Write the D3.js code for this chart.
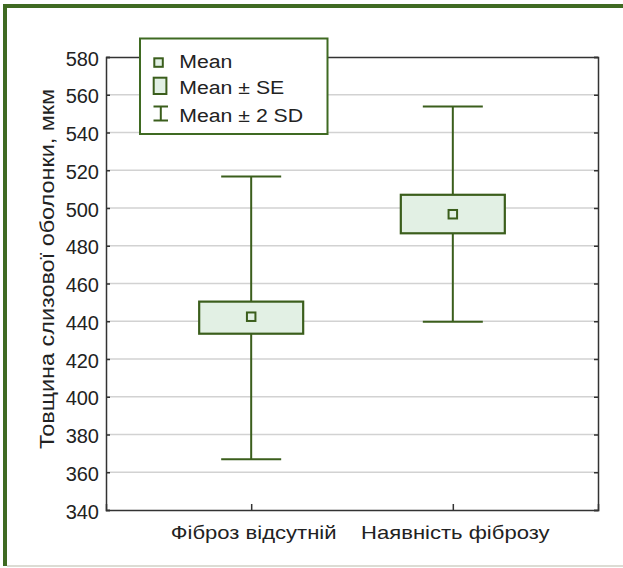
<!DOCTYPE html>
<html><head><meta charset="utf-8">
<script src="https://cdn.jsdelivr.net/npm/d3@7"></script>
<style>body{margin:0;background:#fff}svg{display:block}text{font-family:"Liberation Sans",Arial,sans-serif;fill:#222}</style>
</head><body>
<script>
const categories = ["Фіброз відсутній", "Наявність фіброзу"];
const means = [442.4, 496.7];
const seLow = [433.4, 486.6];
const seHigh = [450.4, 507.0];
const sdLow = [366.9, 439.7];
const sdHigh = [516.7, 553.8];
const yTicks = [340,360,380,400,420,440,460,480,500,520,540,560,580];
const legendLabels = ["Mean", "Mean ± SE", "Mean ± 2 SD"];

const W = 623, H = 568;
const green = "#3b5e1c", fillG = "#e2f0e4";
const svg = d3.select("body").append("svg").attr("width", W).attr("height", H);

function stretch(sel, f){
  sel.each(function(){
    const w = this.getComputedTextLength();
    this.setAttribute("textLength", w*f);
    this.setAttribute("lengthAdjust","spacingAndGlyphs");
  });
}

// outer frame
svg.append("line").attr("x1",5).attr("x2",5).attr("y1",4).attr("y2",566).attr("stroke","#3f6a22").attr("stroke-width",4);
svg.append("line").attr("x1",3).attr("x2",W).attr("y1",6).attr("y2",6).attr("stroke","#3f6a22").attr("stroke-width",4);
svg.append("line").attr("x1",7).attr("x2",W).attr("y1",566).attr("y2",566).attr("stroke","#dcdcd4").attr("stroke-width",2);

const L = 106, R = 598, T = 57, B = 510;
const y = d3.scaleLinear().domain([340,580]).range([B,T]);
const x = d3.scalePoint().domain(categories).range([L,R]).padding(0.72);

// grid
svg.append("g").selectAll("line").data(yTicks.slice(1,-1)).join("line")
  .attr("x1",L).attr("x2",R).attr("y1",d=>y(d)).attr("y2",d=>y(d))
  .attr("stroke","#d2d2d2").attr("stroke-width",1.5);

// axes
const gl = svg.append("g").attr("transform",`translate(${L},0)`)
  .call(d3.axisLeft(y).tickValues(yTicks).tickSize(-4).tickPadding(7));
const gr = svg.append("g").attr("transform",`translate(${R},0)`)
  .call(d3.axisRight(y).tickValues(yTicks).tickSize(-4).tickFormat(""));
const gb = svg.append("g").attr("transform",`translate(0,${B})`)
  .call(d3.axisBottom(x).tickSize(-6).tickPadding(15.5));
const gt = svg.append("g").attr("transform",`translate(0,${T})`)
  .call(d3.axisTop(x).tickSize(0).tickFormat(""));
[gl,gr,gb,gt].forEach(g=>{
  g.select(".domain").attr("stroke","#333").attr("stroke-width",1.5);
  g.selectAll(".tick line").attr("stroke","#333").attr("stroke-width",1.5);
  g.selectAll("text").attr("fill","#222").style("font-family",'"Liberation Sans",Arial,sans-serif');
});
gl.selectAll(".tick text").attr("font-size",20).attr("dy","0.4em");
gb.selectAll(".tick text").attr("font-size",19).attr("dx", 2);
stretch(gb.selectAll(".tick text"), 1.16);

// y label
const yl = svg.append("text").attr("transform",`translate(54,269) rotate(-90)`)
  .attr("text-anchor","middle").attr("font-size",19.5).text("Товщина слизової оболонки, мкм");
stretch(yl, 1.2);

// boxes
const boxW = 104, capW = 60, mk = 8.5;
const g = svg.append("g");
categories.forEach((c,i)=>{
  const cx = x(c);
  g.append("line").attr("x1",cx).attr("x2",cx).attr("y1",y(sdHigh[i])).attr("y2",y(sdLow[i])).attr("stroke",green).attr("stroke-width",2);
  g.append("line").attr("x1",cx-capW/2).attr("x2",cx+capW/2).attr("y1",y(sdHigh[i])).attr("y2",y(sdHigh[i])).attr("stroke",green).attr("stroke-width",2);
  g.append("line").attr("x1",cx-capW/2).attr("x2",cx+capW/2).attr("y1",y(sdLow[i])).attr("y2",y(sdLow[i])).attr("stroke",green).attr("stroke-width",2);
  g.append("rect").attr("x",cx-boxW/2).attr("width",boxW).attr("y",y(seHigh[i])).attr("height",y(seLow[i])-y(seHigh[i]))
    .attr("fill",fillG).attr("stroke",green).attr("stroke-width",2.2);
  g.append("rect").attr("x",cx-mk/2).attr("y",y(means[i])-mk/2).attr("width",mk).attr("height",mk)
    .attr("fill",fillG).attr("stroke",green).attr("stroke-width",2);
});

// legend
const lg = svg.append("g");
lg.append("rect").attr("x",140).attr("y",38.5).attr("width",187.5).attr("height",95.5).attr("fill","#fff").attr("stroke","#3f6a22").attr("stroke-width",2);
const rowBase = [67.7, 94.3, 121.5];
lg.append("rect").attr("x",154.3).attr("y",58.3).attr("width",8.5).attr("height",8.5).attr("fill",fillG).attr("stroke",green).attr("stroke-width",2);
lg.append("rect").attr("x",153.7).attr("y",77.7).attr("width",12.7).attr("height",16.3).attr("fill",fillG).attr("stroke",green).attr("stroke-width",2);
lg.append("line").attr("x1",160.8).attr("x2",160.8).attr("y1",106.5).attr("y2",120.5).attr("stroke",green).attr("stroke-width",2);
lg.append("line").attr("x1",153.5).attr("x2",168).attr("y1",106.5).attr("y2",106.5).attr("stroke",green).attr("stroke-width",2);
lg.append("line").attr("x1",153.5).attr("x2",168).attr("y1",120.5).attr("y2",120.5).attr("stroke",green).attr("stroke-width",2);
const lt = lg.selectAll("text.l").data(legendLabels).join("text").attr("class","l")
  .attr("x",179.3).attr("y",(d,i)=>rowBase[i]).attr("font-size",18).text(d=>d);
stretch(lt, 1.18);
</script>
</body></html>
